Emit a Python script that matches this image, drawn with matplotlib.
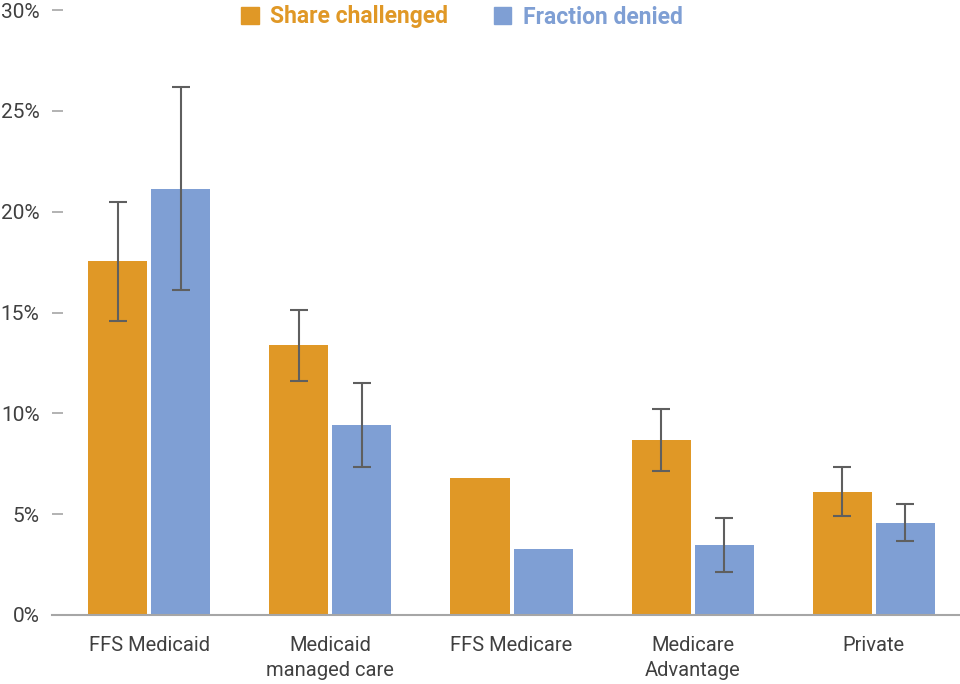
import matplotlib
matplotlib.use("Agg")
import matplotlib.pyplot as plt
from matplotlib.patches import Patch
import numpy as np

categories = ["FFS Medicaid", "Medicaid\nmanaged care", "FFS Medicare", "Medicare\nAdvantage", "Private"]
share_challenged = [17.55, 13.4, 6.8, 8.68, 6.1]
share_low = [14.6, 11.6, np.nan, 7.16, 4.89]
share_high = [20.5, 15.1, np.nan, 10.2, 7.35]
fraction_denied = [21.1, 9.4, 3.25, 3.47, 4.56]
denied_low = [16.1, 7.35, np.nan, 2.14, 3.66]
denied_high = [26.2, 11.5, np.nan, 4.83, 5.5]
yticks = [0, 5, 10, 15, 20, 25, 30]
ytick_labels = ["0%", "5%", "10%", "15%", "20%", "25%", "30%"]

ORANGE = "#E09826"
BLUE = "#7F9FD4"
TEXT = "#404040"
GREY = "#A6A6A6"
ERR = "#5F5F5F"

plt.rcParams["font.family"] = ["Roboto", "DejaVu Sans"]

fig = plt.figure(figsize=(9.6, 6.84), dpi=100)
ax = fig.add_axes([52/960, 1 - 615/684, 1 - 52/960, (615 - 10)/684])

x = np.arange(len(categories))
w = 0.326
off = 0.174

def errs(vals, lo, hi):
    v = np.array(vals); l = np.array(lo); h = np.array(hi)
    return np.vstack([v - l, h - v])

ax.bar(x - off, share_challenged, width=w, color=ORANGE, zorder=2)
ax.bar(x + off, fraction_denied, width=w, color=BLUE, zorder=2)
ax.errorbar(x - off, share_challenged, yerr=errs(share_challenged, share_low, share_high),
            fmt="none", ecolor=ERR, elinewidth=1.5, capsize=6.5, capthick=1.5, zorder=3)
ax.errorbar(x + off, fraction_denied, yerr=errs(fraction_denied, denied_low, denied_high),
            fmt="none", ecolor=ERR, elinewidth=1.5, capsize=6.5, capthick=1.5, zorder=3)

ax.set_xlim(-0.536, 4.475)
ax.set_ylim(0, 30)
ax.set_yticks(yticks)
ax.set_yticklabels(ytick_labels)
ax.set_xticks(x)
ax.set_xticklabels(categories, linespacing=1.4)

for s in ["top", "right", "left"]:
    ax.spines[s].set_visible(False)
ax.spines["bottom"].set_color(GREY)
ax.spines["bottom"].set_linewidth(1.5)

ax.tick_params(axis="y", direction="in", length=8, width=1.2, color=GREY,
               labelcolor=TEXT, labelsize=15, pad=9)
ax.tick_params(axis="x", length=0, labelcolor=TEXT, labelsize=14.5, pad=15)
for lbl in ax.get_yticklabels():
    lbl.set_horizontalalignment("right")

handles = [Patch(color=ORANGE, label="Share challenged"), Patch(color=BLUE, label="Fraction denied")]
leg = fig.legend(handles=handles, loc="center", bbox_to_anchor=(462/960, 1 - 17/684), ncol=2,
                 frameon=False, handlelength=0.75, handleheight=0.75, handletextpad=0.5,
                 columnspacing=2.0, prop={"size": 16.5, "weight": "bold"},
                 labelcolor=[ORANGE, BLUE])

fig.savefig("out.png", dpi=100)
